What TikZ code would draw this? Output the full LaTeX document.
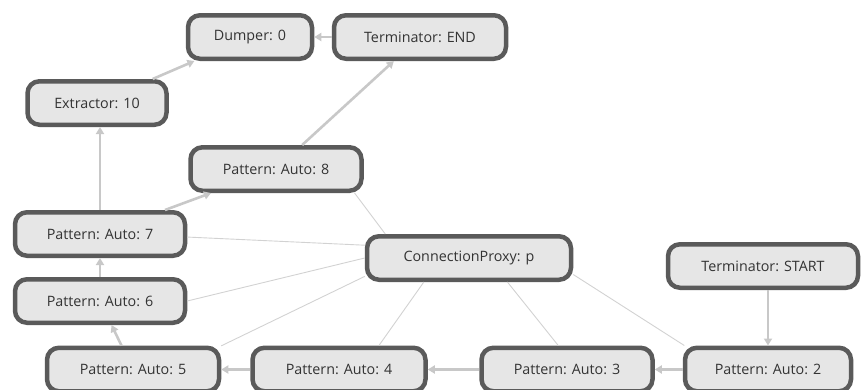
\documentclass[tikz,border=0pt]{standalone}
\usepackage{fontspec}
\setmainfont{Open Sans}
\usetikzlibrary{arrows.meta}
\definecolor{boxfill}{HTML}{E6E6E6}
\definecolor{boxline}{HTML}{5A5A5A}
\definecolor{boxtext}{HTML}{333333}
\definecolor{flowline}{HTML}{C8C8C8}
\definecolor{proxyline}{HTML}{D2D2D2}
\begin{document}
\begin{tikzpicture}[x=1pt,y=-1pt,
  box/.style={draw=boxline, fill=boxfill, line width=4.5pt, rounded corners=12pt,
    minimum height=43.5pt, inner sep=0pt, text=boxtext,
    font=\fontsize{14.3}{16}\selectfont},
  flow/.style={draw=flowline, line width=2.6pt, -{Triangle[length=7pt,width=8pt]}},
  link/.style={draw=proxyline, line width=0.9pt}]
\useasboundingbox (0,0) rectangle (862,389);
\node[box, minimum width=124pt] (dump) at (250,37) {Dumper: 0};
\node[box, minimum width=172pt] (tend) at (420,37) {Terminator: END};
\node[box, minimum width=139pt] (extr) at (97,103) {Extractor: 10};
\node[box, minimum width=171pt] (p8) at (276,169) {Pattern: Auto: 8};
\node[box, minimum width=170pt] (p7) at (100,234) {Pattern: Auto: 7};
\node[box, minimum width=170pt] (p6) at (100,301) {Pattern: Auto: 6};
\node[box, minimum width=172pt] (p5) at (133,369.5) {Pattern: Auto: 5};
\node[box, minimum width=173pt] (p4) at (339,369.5) {Pattern: Auto: 4};
\node[box, minimum width=171pt] (p3) at (567,369.5) {Pattern: Auto: 3};
\node[box, minimum width=166pt] (p2) at (768,369.5) {Pattern: Auto: 2};
\node[box, minimum width=204pt] (prox) at (469,258) {ConnectionProxy: p};
\node[box, minimum width=190pt] (tstart) at (763,266) {Terminator: START};
% proxy links
\draw[link] (prox.164) -- (p8.343);
\draw[link] (prox.173) -- (p7.358);
\draw[link] (prox.180) -- (p6.east);
\draw[link] (prox.190) -- (p5.15);
\draw[link] (prox.208) -- (p4.31);
\draw[link] (prox.328) -- (p3.110);
\draw[link] (prox.351) -- (p2.164);
% flow arrows
\draw[flow] (extr) -- (dump);
\draw[flow] (tend) -- (dump);
\draw[flow] (p8) -- (tend);
\draw[flow] (p7.north) -- (p7.north |- extr.south);
\draw[flow] (p7) -- (p8);
\draw[flow] (p6) -- (p7);
\draw[flow] (p5) -- (p6);
\draw[flow] (p4) -- (p5);
\draw[flow] (p3) -- (p4);
\draw[flow] (p2) -- (p3);
\draw[flow] (p2.north |- tstart.south) -- (p2.north);
\end{tikzpicture}
\end{document}
